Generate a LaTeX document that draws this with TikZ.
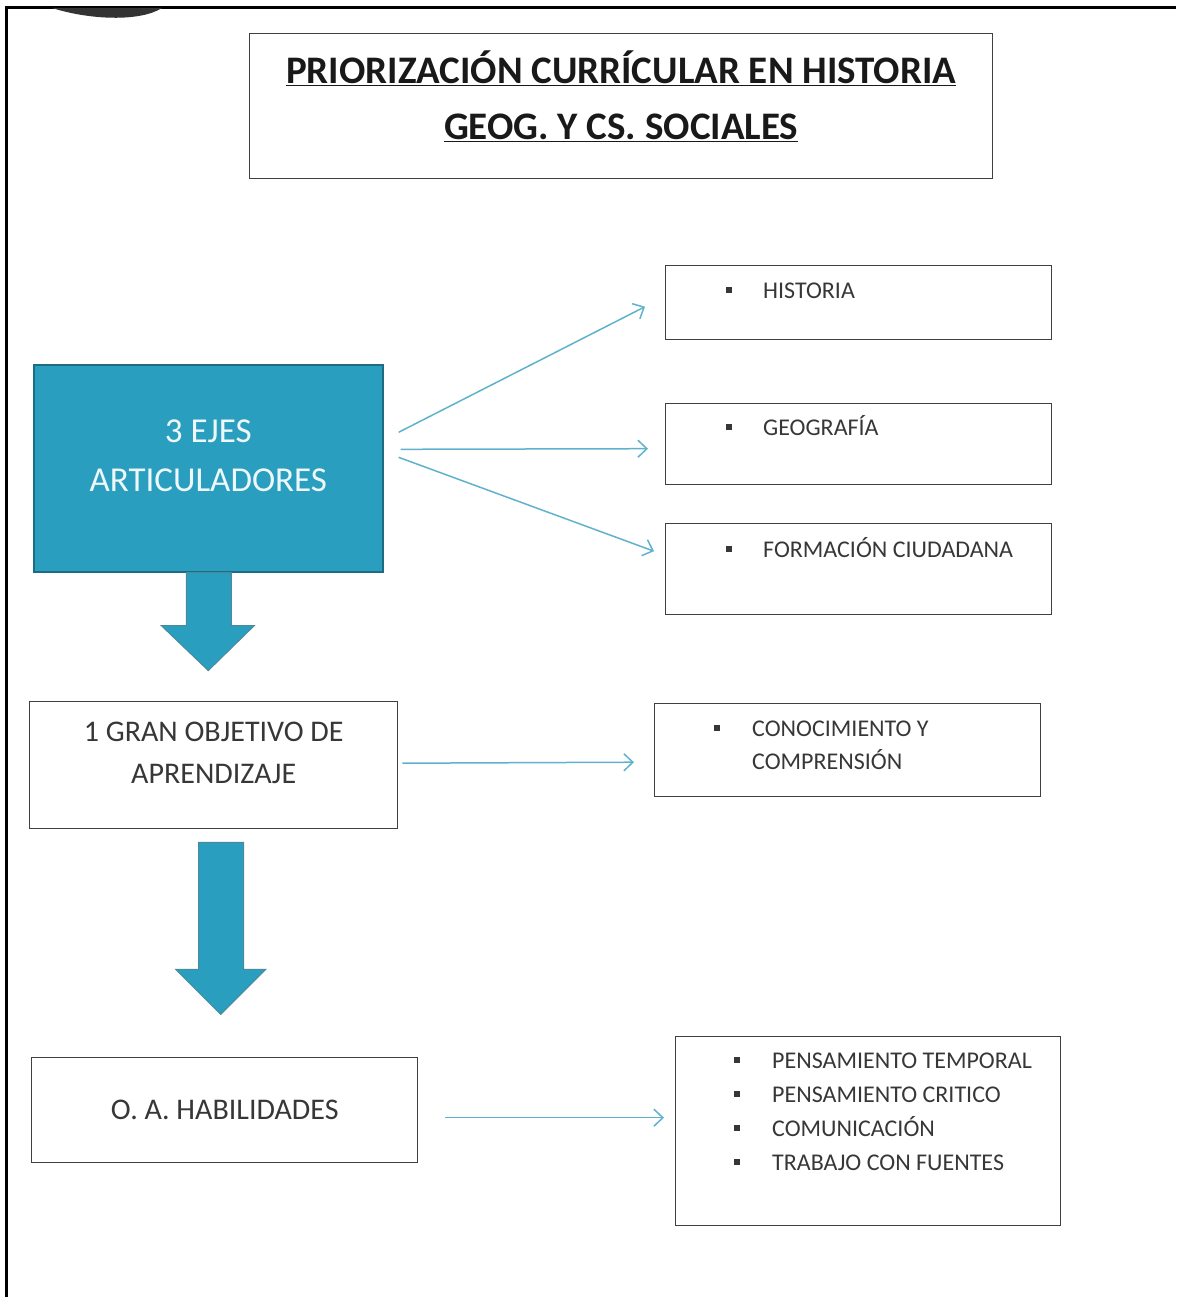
\documentclass[tikz,border=0pt]{standalone}
\usepackage{fontspec}
\setmainfont{Carlito}
\usetikzlibrary{arrows.meta}

\definecolor{ejeteal}{RGB}{42,158,190}
\definecolor{ejeborde}{RGB}{30,108,132}
\definecolor{flecha}{RGB}{96,178,204}
\definecolor{texto}{RGB}{55,55,55}
\newcommand{\bul}{\rule[5pt]{6pt}{6pt}}

\begin{document}
\begin{tikzpicture}[x=1pt, y=-1pt,
    caja/.style={rectangle, draw=black!75, line width=1.4pt, anchor=north west, inner sep=0pt},
    ejecaja/.style={rectangle, draw=ejeborde, fill=ejeteal, line width=1.6pt, anchor=north west, inner sep=0pt},
    lista/.style={anchor=base west, inner sep=0pt, text=texto, font=\fontsize{24}{33}\selectfont},
    link/.style={draw=flecha, line width=1.5pt, -{Straight Barb[length=9pt, width=17pt]}},
    bloque/.style={fill=ejeteal, draw=ejeborde!80, line width=1pt}]
      \useasboundingbox (0,0) rectangle (1176,1297);

      % page frame and the cut logo
      \draw[line width=2.5pt] (1176,7.5) -| (6.5,1297);
      \fill[black!80] (52,8) .. controls (90,20) and (140,22) .. (162,8) -- cycle;

      % title
      \node[caja, minimum width=743pt, minimum height=145pt] (titulo) at (249,33) {};
      \node[align=center, text=black!90, font=\fontsize{39}{56}\selectfont\bfseries] (titulotxt) at ([yshift=10pt]titulo.center) {\underline{PRIORIZACIÓN CURRÍCULAR EN HISTORIA}\\\underline{GEOG. Y CS. SOCIALES}};

      % left column
      \node[ejecaja, minimum width=349pt, minimum height=207pt] (eje) at (33,364) {};
      \node[align=center, text=white!92!ejeteal, font=\fontsize{35}{49}\selectfont] (ejetxt) at ([yshift=13pt]eje.center) {3 EJES\\ARTICULADORES};
      \node[caja, minimum width=368pt, minimum height=127pt] (obj) at (29,701) {};
      \node[align=center, text=texto, font=\fontsize{30}{42}\selectfont] (objtxt) at ([yshift=12pt]obj.center) {1 GRAN OBJETIVO DE\\APRENDIZAJE};
      \node[caja, minimum width=386pt, minimum height=105pt, text=texto, font=\fontsize{30}{42}\selectfont] (habil) at (31,1057) {O. A. HABILIDADES};

      % right column
      \node[caja, minimum width=386pt, minimum height=74pt] (hist) at (665,265) {};
      \node[caja, minimum width=386pt, minimum height=81pt] (geo) at (665,403) {};
      \node[caja, minimum width=386pt, minimum height=91pt] (form) at (665,523) {};
      \node[caja, minimum width=386pt, minimum height=93pt] (conoc) at (654,703) {};
      \node[caja, minimum width=385pt, minimum height=189pt] (hlist) at (675,1036) {};

      \node[lista] (histtxt) at ([shift={(61,33)}]hist.north west) {\begin{tabular}[t]{@{}l@{\hspace{31pt}}l@{}}\bul & HISTORIA\end{tabular}};
      \node[lista] (geotxt) at ([shift={(61,32)}]geo.north west) {\begin{tabular}[t]{@{}l@{\hspace{31pt}}l@{}}\bul & GEOGRAFÍA\end{tabular}};
      \node[lista] (formtxt) at ([shift={(61,34)}]form.north west) {\begin{tabular}[t]{@{}l@{\hspace{31pt}}l@{}}\bul & FORMACIÓN CIUDADANA\end{tabular}};
      \node[lista] (conoctxt) at ([shift={(60,33)}]conoc.north west) {\begin{tabular}[t]{@{}l@{\hspace{32pt}}l@{}}\bul & CONOCIMIENTO Y\\ & COMPRENSIÓN\end{tabular}};
      \node[lista, font=\fontsize{24}{34}\selectfont] (hlisttxt) at ([shift={(59,32)}]hlist.north west) {\begin{tabular}[t]{@{}l@{\hspace{32pt}}l@{}}\bul & PENSAMIENTO TEMPORAL\\\bul & PENSAMIENTO CRITICO\\\bul & COMUNICACIÓN\\\bul & TRABAJO CON FUENTES\end{tabular}};

      % big arrows down
      \draw[bloque] ([xshift=-22pt]eje.south) -- ++(0,53) -- ++(-25,0) -- ++(47,45) -- ++(46,-45) -- ++(-23,0) -- ++(0,-53) -- cycle;
      \draw[bloque] ([xshift=-15pt, yshift=-13pt]obj.south) -- ++(0,127) -- ++(-23,0) -- ++(45,45) -- ++(45,-45) -- ++(-22,0) -- ++(0,-127) -- cycle;

      % thin arrows
      \draw[link] ([shift={(15,-36)}]eje.east) -- ([shift={(-20,4)}]hist.west);
      \draw[link] ([shift={(17,-19)}]eje.east) -- ([shift={(-17,4.5)}]geo.west);
      \draw[link] ([shift={(15,-11)}]eje.east) -- ([shift={(-11,-18)}]form.west);
      \draw[link] ([shift={(4,-2)}]obj.east) -- ([shift={(-20,12)}]conoc.west);
      \draw[link] ([shift={(27,7.5)}]habil.east) -- ([shift={(-11,-13.5)}]hlist.west);
    \end{tikzpicture}
\end{document}
